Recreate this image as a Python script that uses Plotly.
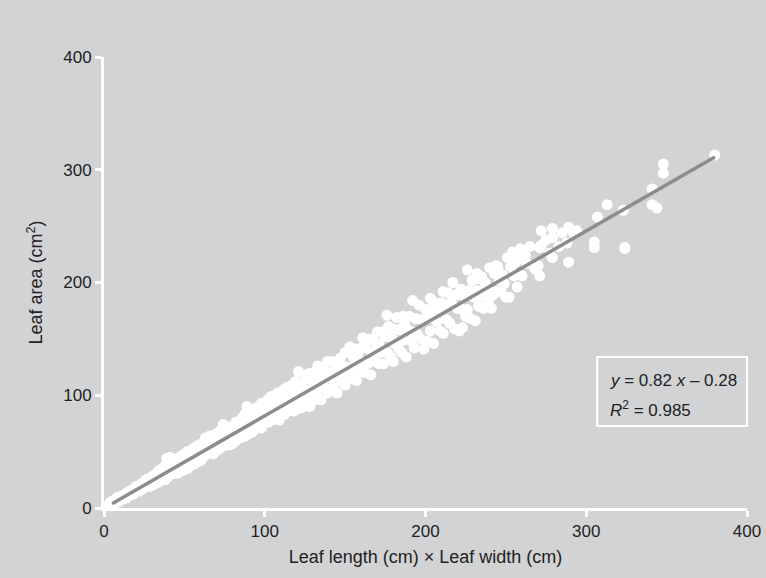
import plotly.graph_objects as go

# ---- data ----
# small leaves (x 3-60)
lw_a = [3, 4, 5, 5, 6, 7, 8, 8, 9, 10, 10, 11, 12, 12, 13, 14, 14, 15, 16, 16, 17, 18, 18, 19, 20, 20, 21, 22, 22, 23,
        24, 24, 25,
        26, 26, 27, 28, 28, 29, 30, 30, 31, 32, 32, 33, 34, 34, 35, 36, 36, 37, 38, 38, 39, 40, 40, 41, 41, 42, 43,
        44, 44, 45, 46, 46, 47, 48, 48, 49, 50, 50, 51, 52, 52, 53, 54, 54, 55, 56, 56, 57, 58, 58, 59, 60, 60]
area_a = [3, 5, 2, 6, 4, 7, 5, 9, 6, 10, 7, 8, 11, 8, 12, 9, 13, 11, 15, 12, 13, 16, 12, 17, 15, 19, 16, 20, 15, 18,
          22, 17, 21,
          19, 25, 24, 26, 19, 22, 28, 20, 25, 30, 22, 27, 33, 23, 29, 26, 35, 31, 37, 25, 44, 41, 28, 45, 35, 30, 40,
          31, 42, 38, 44, 31, 40, 46, 33, 38, 48, 34, 43, 50, 35, 45, 38, 51, 47, 53, 39, 44, 55, 41, 50, 56, 42]

# x 61-121
lw_b = [61, 61, 62, 63, 63, 64, 65, 65, 66, 66, 67, 68, 68, 69, 70, 70, 71, 72, 72, 73, 74, 74, 75, 76, 76, 77, 78, 78,
        79, 80, 80, 81, 82, 82, 83, 84, 84, 85, 86, 86, 87, 88, 88, 89, 89, 90, 90, 91, 92, 92, 93, 94, 94, 95, 96, 96,
        97, 98, 98, 99, 100, 100, 101, 102, 102, 103, 104, 104, 105, 106, 106, 107, 108, 108, 109, 109, 110, 110, 111,
        112, 112, 113, 114, 114, 115, 116, 116, 117, 118, 118, 119, 119, 120, 120, 121, 121]
area_b = [57, 44, 52, 62, 47, 55, 49, 59, 64, 51, 58, 63, 48, 60, 66, 51, 55, 68, 53, 62, 74, 55, 65, 57, 71, 66, 72, 56,
          62, 70, 57, 68, 76, 60, 65, 77, 62, 71, 80, 63, 74, 84, 64, 90, 70, 81, 66, 77, 86, 67, 80, 88, 70, 76, 90, 72,
          85, 93, 71, 80, 92, 76, 87, 96, 76, 90, 99, 78, 84, 97, 79, 91, 102, 81, 95, 78, 101, 84, 94,
          105, 83, 98, 107, 86, 92, 108, 88, 101, 110, 86, 112, 100, 107, 88, 121, 95]

# x 122-200
lw_c = [122, 123, 123, 124, 125, 125, 126, 127, 127, 128, 129, 129, 130, 131, 132, 132, 133, 134, 135, 135, 136, 137,
        138, 139, 139, 140, 141, 142, 143, 144, 145, 145, 146, 147, 148, 149, 150, 150, 151, 152, 153, 154, 155, 155,
        156, 157, 158, 159, 160, 161, 161, 162, 163, 164, 165, 166, 166, 167, 168, 169, 170, 171, 171, 172, 173, 174,
        175, 176, 176, 177, 178, 179, 180, 180, 181, 182, 183, 184, 185, 186, 186, 187, 188, 189, 190, 191, 192, 192,
        193, 194, 195, 196, 197, 198, 199, 200]
area_c = [110, 97, 89, 105, 114, 93, 104, 119, 98, 90, 113, 104, 120, 96, 113, 100, 126, 107, 120, 96, 114, 123,
          106, 130, 102, 119, 115, 130, 107, 124, 102, 129, 116, 133, 113, 125, 138, 109, 125, 119, 143, 115, 134, 125,
          141, 113, 135, 121, 142, 129, 151, 120, 142, 128, 150, 118, 139, 149, 130, 140, 156, 128, 146, 138, 156, 128,
          152, 171, 138, 161, 135, 151, 130, 159, 146, 169, 142, 158, 138, 170, 149, 163, 134, 158, 170, 148, 184, 156,
          142, 168, 154, 180, 150, 167, 141, 176]

# x 201-260
lw_d = [201, 202, 203, 203, 204, 205, 205, 206, 207, 208, 209, 210, 211, 211, 212, 213, 214, 215, 215, 216, 217, 218,
        219, 220, 221, 222, 223, 223, 224, 225, 226, 226, 227, 228, 229, 230, 231, 232, 232, 233, 234, 235, 235, 236,
        237, 238, 239, 240, 240, 241, 242, 243, 244, 244, 245, 246, 247, 248, 249, 250, 251, 252, 253, 254, 255, 256,
        257, 258, 259, 260]
area_d = [148, 174, 186, 157, 169, 146, 180, 182, 165, 177, 157, 182, 192, 155, 177, 167, 191, 164, 190, 182, 200, 159,
          189, 177, 157, 194, 176, 160, 188, 170, 211, 176, 193, 168, 202, 187, 166, 208, 193, 179, 203, 188, 205, 177,
          200, 196, 183, 213, 191, 177, 189, 208, 192, 215, 214, 202, 192, 207, 199, 187, 222, 187, 214, 227, 206, 218,
          196, 222, 230, 206]

# large leaves (x > 260)
lw_e = [262, 263, 265, 268, 270, 271, 271, 272, 272, 275, 277, 279, 279, 279, 283, 285, 288, 289, 289, 292, 294, 305,
        305, 307, 313, 323, 324, 324, 341, 341, 344, 348, 348, 380]
area_e = [224, 217, 232, 212, 215, 206, 231, 246, 233, 238, 226, 248, 240, 222, 232, 244, 235, 249, 218, 244, 246, 236,
          231, 258, 269, 264, 231, 230, 283, 269, 266, 305, 297, 313]

for xs, ys in [(lw_a, area_a), (lw_b, area_b), (lw_c, area_c), (lw_d, area_d), (lw_e, area_e)]:
    assert len(xs) == len(ys), (len(xs), len(ys))

leaf_lw = lw_a + lw_b + lw_c + lw_d + lw_e
leaf_area = area_a + area_b + area_c + area_d + area_e

fit_slope = 0.82
fit_intercept = -0.28
fit_x = [5, 380]
fit_y = [fit_slope * v + fit_intercept for v in fit_x]

x_ticks = [0, 100, 200, 300, 400]
y_ticks = [0, 100, 200, 300, 400]

BG = "#d2d3d5"
TXT = "#222222"
FONT = "Liberation Sans, Arial, sans-serif"

fig = go.Figure()
fig.add_trace(go.Scatter(
    x=leaf_lw, y=leaf_area, mode="markers",
    marker=dict(color="white", size=11, line=dict(width=0)),
    cliponaxis=False, showlegend=False, hoverinfo="x+y",
))
fig.add_trace(go.Scatter(
    x=fit_x, y=fit_y, mode="lines",
    line=dict(color="#8c8c8c", width=3.5),
    cliponaxis=False, showlegend=False,
))

axis_common = dict(
    showgrid=False, zeroline=False, showline=True, linecolor="white", linewidth=3,
    ticks="outside", ticklen=6, tickwidth=3, tickcolor="white",
    tickfont=dict(family=FONT, size=17, color=TXT),
    range=[0, 400], tickmode="array",
)
fig.update_xaxes(**axis_common, tickvals=x_ticks, ticktext=[str(v) for v in x_ticks],
                 title=dict(text="Leaf length (cm) × Leaf width (cm)",
                            font=dict(family=FONT, size=18, color=TXT), standoff=10))
fig.update_yaxes(**axis_common, tickvals=y_ticks, ticktext=[str(v) for v in y_ticks],
                 title=dict(text="Leaf area (cm<sup>2</sup>)",
                            font=dict(family=FONT, size=18, color=TXT), standoff=16))

fig.update_layout(
    width=766, height=578,
    autosize=False,
    margin=dict(l=104, r=19, t=57, b=70, autoexpand=False),
    paper_bgcolor=BG, plot_bgcolor=BG,
    font=dict(family=FONT, color=TXT),
    shapes=[dict(type="rect", xref="paper", yref="paper",
                 x0=0.767, x1=1.0, y0=0.182, y1=0.335,
                 line=dict(color="white", width=2), fillcolor="rgba(0,0,0,0)")],
    annotations=[
        dict(xref="paper", yref="paper", x=0.784, y=0.282, xanchor="left", yanchor="middle",
             showarrow=False, text="<i>y</i> = 0.82 <i>x</i> – 0.28",
             font=dict(family=FONT, size=17, color=TXT)),
        dict(xref="paper", yref="paper", x=0.784, y=0.219, xanchor="left", yanchor="middle",
             showarrow=False, text="<i>R</i><sup>2</sup> = 0.985",
             font=dict(family=FONT, size=17, color=TXT)),
    ],
)

fig.write_html(
    "out.html",
    config={"displayModeBar": False},
    post_script="document.body.style.margin='0';document.body.style.background='#d2d3d5';"
                "document.documentElement.style.background='#d2d3d5';",
)
